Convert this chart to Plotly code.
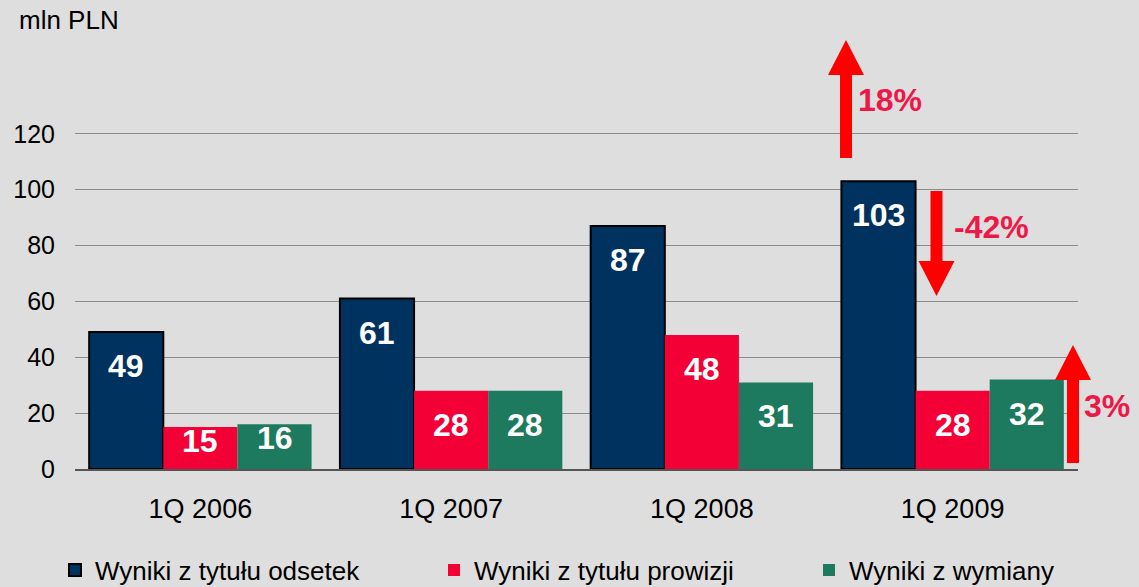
import plotly.graph_objects as go

# ---- data ----
categories = ["1Q 2006", "1Q 2007", "1Q 2008", "1Q 2009"]
series_names = ["Wyniki z tytułu odsetek", "Wyniki z tytułu prowizji", "Wyniki z wymiany"]
odsetki = [49, 61, 87, 103]
prowizje = [15, 28, 48, 28]
wymiana = [16, 28, 31, 32]
y_ticks = [0, 20, 40, 60, 80, 100, 120]
unit_label = "mln PLN"
changes = ["18%", "-42%", "3%"]

series_values = [odsetki, prowizje, wymiana]
colors = ["#00325F", "#F20036", "#1D7A5E"]
line_colors = ["#000000", "#F20036", "#1D7A5E"]
line_widths = [2, 0, 0]
legend_ids = ["legend", "legend2", "legend3"]
legend_left_px = [55, 434, 809]

FONT = "Liberation Sans, Arial, sans-serif"
W, H = 1139, 587
ML, MR, MT, MB = 75, 61, 36, 118
PW, PH = W - ML - MR, H - MT - MB
BARGAP = 0.113
YMAX = 155

fig = go.Figure()
for name, vals, c, lc, lw, lg in zip(series_names, series_values, colors,
                                     line_colors, line_widths, legend_ids):
    fig.add_trace(go.Bar(
        x=categories, y=vals, name=name, legend=lg,
        marker=dict(color=c, line=dict(color=lc, width=lw)),
        hoverinfo="skip",
    ))

# value labels inside bars (anchored to data)
bw = (1 - BARGAP) / 3
annotations = []
for k, vals in enumerate(series_values):
    for i, v in enumerate(vals):
        annotations.append(dict(
            x=i + (k - 1) * bw, y=v, xref="x", yref="y",
            text=str(v), showarrow=False,
            yanchor="middle", xanchor="center",
            yshift=-34 if v >= 25 else -14,
            font=dict(family=FONT, size=32, color="white", weight="bold"),
        ))


def px_x(px):
    return (px - ML) / PW


def px_y(py):
    return (MT + PH - py) / PH


# unit label
annotations.append(dict(
    x=px_x(17), y=px_y(20), xref="paper", yref="paper",
    text=unit_label, showarrow=False, xanchor="left", yanchor="middle",
    font=dict(family=FONT, size=26, color="black"),
))

# change arrows (pixel geometry -> paper coords)
arrow_specs = [
    # xc, tail, tip, shaft_w, head_w, head_len, text_left, text_y
    (846, 158, 40, 12, 36, 35, 856, 100),
    (936.5, 191, 296, 12, 36, 35, 952, 227),
    (1073, 463, 345, 12, 36, 35, 1082, 406),
]
shapes = []
for (xc, tail, tip, sw, hw, hl, tx, ty), label in zip(arrow_specs, changes):
    d = 1 if tip > tail else -1
    base = tip - d * hl
    pts = [
        (xc - sw / 2, tail), (xc - sw / 2, base), (xc - hw / 2, base),
        (xc, tip), (xc + hw / 2, base), (xc + sw / 2, base), (xc + sw / 2, tail),
    ]
    path = "M " + " L ".join(f"{px_x(a):.5f},{px_y(b):.5f}" for a, b in pts) + " Z"
    shapes.append(dict(type="path", path=path, xref="paper", yref="paper",
                       fillcolor="#FF0000", line=dict(width=0), layer="above"))
    annotations.append(dict(
        x=px_x(tx), y=px_y(ty), xref="paper", yref="paper", text=label,
        showarrow=False, xanchor="left", yanchor="middle",
        font=dict(family=FONT, size=32, color="#EC1848", weight="bold"),
    ))

legend_common = dict(
    orientation="h", xref="container", yref="container",
    xanchor="left", yanchor="middle", bgcolor="rgba(0,0,0,0)",
    font=dict(family=FONT, size=26, color="black"),
)
legend_layout = {}
for lg, lx in zip(legend_ids, legend_left_px):
    legend_layout[lg] = dict(legend_common, x=lx / W, y=17 / H)

fig.update_layout(
    width=W, height=H,
    margin=dict(l=ML, r=MR, t=MT, b=MB, autoexpand=False),
    paper_bgcolor="#DEDEDE", plot_bgcolor="#DEDEDE",
    barmode="group", bargap=BARGAP, bargroupgap=0,
    font=dict(family=FONT, color="black"),
    annotations=annotations, shapes=shapes,
    showlegend=True,
    xaxis=dict(
        range=[-0.5, 3.5], autorange=False,
        showgrid=False, showline=True, linecolor="#555555", linewidth=2,
        ticks="", tickfont=dict(family=FONT, size=27, color="black"),
        ticklabelstandoff=15, zeroline=False,
    ),
    yaxis=dict(
        range=[0, YMAX], autorange=False, tickvals=y_ticks, showgrid=True,
        gridcolor="#8C8C8C", gridwidth=1, showline=False, zeroline=False,
        ticks="", tickfont=dict(family=FONT, size=25, color="black"),
        ticklabelstandoff=19,
    ),
    **legend_layout,
)

fig.write_html(
    "out.html",
    include_plotlyjs=True,
    config={"displayModeBar": False},
    post_script="document.body.style.margin='0';document.body.style.background='#DEDEDE';document.documentElement.style.overflow='hidden';",
)
